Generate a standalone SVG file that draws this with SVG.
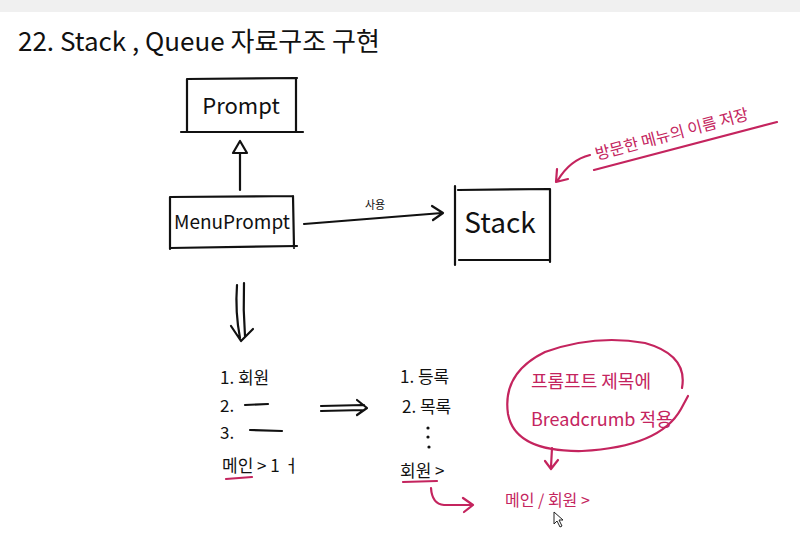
<svg xmlns="http://www.w3.org/2000/svg" width="800" height="538" viewBox="0 0 800 538">
<style>
.t{font-family:"Noto Sans CJK KR","Noto Sans",sans-serif;fill:#111;}
.p{font-family:"Noto Sans CJK KR","Noto Sans",sans-serif;fill:#c4245e;}
.ln{stroke:#111;stroke-width:2.2;fill:none;stroke-linecap:round;stroke-linejoin:round;}
.pk{stroke:#c4245e;stroke-width:2.2;fill:none;stroke-linecap:round;stroke-linejoin:round;}
</style>
<rect width="800" height="538" fill="#ffffff"/>
<rect width="800" height="12" fill="#f0f0f0"/>
<text class="t" x="18" y="51" font-size="26">22. Stack , Queue  자료구조  구현</text>

<g id="prompt">
<path class="ln" d="M187 79 L297 78 M181 132 L303 132 M187 79 L187 132 M296 78 L296 132"/>
<text class="t" x="241" y="114" font-size="22" text-anchor="middle">Prompt</text>
</g>
<g id="menuprompt">
<path class="ln" d="M170 197 L293 196 M170 197 L170 249 M293 196 L294 248 M170 248 L297 246"/>
<text class="t" x="232" y="229" font-size="19" text-anchor="middle">MenuPrompt</text>
</g>
<g id="stack">
<path class="ln" d="M455 186 L455 265 M458 190 L550 189 M550 189 L550 262 M459 260 L550 260"/>
<text class="t" x="500" y="233" font-size="28" text-anchor="middle">Stack</text>
</g>

<g id="connectors">
<path class="ln" d="M240 153 L240 190"/>
<path class="ln" d="M240 141 L233 153 L247 153 Z"/>
<path class="ln" d="M304 224 L442 213 M432 206 L443 213 L433 220"/>
<text class="t" x="375" y="209" font-size="11" text-anchor="middle">사용</text>
<path class="ln" d="M237 285 Q235 312 240 338 M244 283 Q243 310 245 336 M231 326 L241 341 L253 329"/>
<path class="ln" d="M321 406 L364 405 M321 411 L364 410 M357 400 L367 408 L357 415"/>
<path class="pk" d="M590 155 Q570 160 558 180 M557 169 L556 182 L568 179"/>
<path class="pk" d="M431 488 Q432 504 444 505 L472 505 M463 498 L473 505 L464 512"/>
<path class="pk" d="M552 448 L551 467 M545 461 L551 469 L558 460"/>
</g>

<g id="note-stack">
<text class="p" x="0" y="0" font-size="16" transform="translate(597 160) rotate(-15)">방문한 메뉴의 이름 저장</text>
<path class="pk" d="M594 170 L777 122"/>
</g>

<g id="menu-main">
<text class="t" x="220" y="384" font-size="17">1. 회원</text>
<text class="t" x="220" y="412" font-size="17">2.</text>
<path class="ln" d="M245 405 L268 404"/>
<text class="t" x="220" y="439" font-size="17">3.</text>
<path class="ln" d="M250 430 L282 431"/>
<text class="t" x="222" y="472" font-size="17">메인 &gt; 1 ㅓ</text>
<path class="pk" d="M226 479 L252 477"/>
</g>

<g id="menu-member">
<text class="t" x="400" y="383" font-size="17">1. 등록</text>
<text class="t" x="402" y="413" font-size="17">2. 목록</text>
<circle cx="428" cy="428" r="1.6" fill="#111"/>
<circle cx="428" cy="437" r="1.6" fill="#111"/>
<circle cx="429" cy="447" r="1.6" fill="#111"/>
<text class="t" x="400" y="477" font-size="17">회원 &gt;</text>
<path class="pk" d="M403 482 L437 481"/>
</g>

<g id="breadcrumb">
<path class="pk" d="M688 396 L681 409 Q660 447 582 451 Q515 452 508 414 Q502 373 545 352 Q595 334 645 343 Q688 355 682 388"/>
<text class="p" x="531" y="388" font-size="18">프롬프트 제목에</text>
<text class="p" x="531" y="426" font-size="18">Breadcrumb 적용</text>
</g>

<g id="result">
<text class="p" x="505" y="506" font-size="16">메인 / 회원 &gt;</text>
<path d="M554 512 L554 524 L557 521 L560 527 L562 526 L559 520 L563 520 Z" fill="#fff" stroke="#222" stroke-width="1"/>
</g>
</svg>
